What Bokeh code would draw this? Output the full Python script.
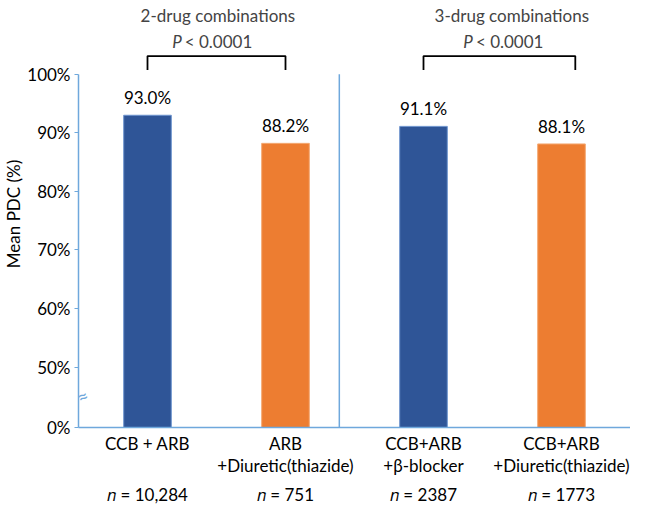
from bokeh.plotting import figure
from bokeh.models import (Range1d, FixedTicker, CustomJSTickFormatter, ColumnDataSource,
                          LabelSet, Label, LinearAxis)
from bokeh.core.properties import value
from bokeh.embed import file_html
from bokeh.resources import INLINE

# ---- data ----
categories_line1 = ["CCB + ARB", "ARB", "CCB+ARB", "CCB+ARB"]
categories_line2 = ["", "+Diuretic(thiazide)", "+β-blocker", "+Diuretic(thiazide)"]
n_labels = ["10,284", "751", "2387", "1773"]
mean_pdc = [93.0, 88.2, 91.1, 88.1]
value_labels = ["93.0%", "88.2%", "91.1%", "88.1%"]
groups = ["2-drug combinations", "3-drug combinations"]
y_ticks = [50, 60, 70, 80, 90, 100]
colors = ["#2F5597", "#ED7D31", "#2F5597", "#ED7D31"]
outline = ["#6F95CF", "#F4A872", "#6F95CF", "#F4A872"]

FONT = "Lato"
FS = "17px"
AXIS_COLOR = "#6FA8DC"
GAP = 62 / 6.0           # extent of the broken 0-50% segment, in plot units
ZERO = 50 - GAP          # plotted position of 0%
Y_TOP = 112.6
X_END = 4.0

xs = [i + 0.5 for i in range(len(mean_pdc))]
cat_labels = [a if not b else a + "\n" + b for a, b in zip(categories_line1, categories_line2)]
n_texts = ["\U0001D45B = " + s for s in n_labels]

p = figure(width=630, height=507, output_backend="svg", toolbar_location=None,
           x_range=Range1d(0, X_END), y_range=Range1d(ZERO, Y_TOP),
           x_axis_location=None, y_axis_location=None,
           min_border_left=0, min_border_right=0, min_border_top=0, min_border_bottom=0)
p.outline_line_color = None
p.grid.visible = False
p.background_fill_color = "white"

# y axis
yaxis = LinearAxis(ticker=FixedTicker(ticks=[ZERO] + y_ticks),
                   formatter=CustomJSTickFormatter(code="return tick < 45 ? '0%' : tick.toFixed(0) + '%';"))
yaxis.bounds = (ZERO, 100)
yaxis.axis_line_color = AXIS_COLOR
yaxis.axis_line_width = 1.5
yaxis.major_tick_line_color = AXIS_COLOR
yaxis.major_tick_out = 4
yaxis.major_tick_in = 0
yaxis.minor_tick_line_color = None
yaxis.minor_tick_out = 0
yaxis.major_label_text_font = FONT
yaxis.major_label_text_font_size = FS
yaxis.major_label_text_color = "black"
yaxis.major_label_standoff = 4
yaxis.axis_label = "Mean PDC (%)"
yaxis.axis_label_text_font = FONT
yaxis.axis_label_text_font_size = FS
yaxis.axis_label_text_font_style = "normal"
yaxis.axis_label_text_color = "black"
yaxis.axis_label_standoff = 0
p.add_layout(yaxis, "left")

# x axis with category labels
xaxis = LinearAxis(ticker=FixedTicker(ticks=xs),
                   formatter=CustomJSTickFormatter(args=dict(labels=cat_labels),
                                                   code="return labels[Math.round(tick - 0.5)];"))
xaxis.axis_line_color = AXIS_COLOR
xaxis.axis_line_width = 1.5
xaxis.major_tick_line_color = None
xaxis.major_tick_out = 0
xaxis.major_tick_in = 0
xaxis.minor_tick_line_color = None
xaxis.minor_tick_out = 0
xaxis.major_label_text_font = FONT
xaxis.major_label_text_font_size = FS
xaxis.major_label_text_color = "black"
xaxis.major_label_text_line_height = 1.05
xaxis.major_label_standoff = 5
p.add_layout(xaxis, "below")

# second x axis: group sizes
naxis = LinearAxis(ticker=FixedTicker(ticks=xs),
                   formatter=CustomJSTickFormatter(args=dict(labels=n_texts),
                                                   code="return labels[Math.round(tick - 0.5)];"))
naxis.axis_line_color = None
naxis.major_tick_line_color = None
naxis.major_tick_out = 0
naxis.major_tick_in = 0
naxis.minor_tick_line_color = None
naxis.minor_tick_out = 0
naxis.major_label_text_font = FONT
naxis.major_label_text_font_size = FS
naxis.major_label_text_color = "black"
naxis.major_label_standoff = 5
p.add_layout(naxis, "below")

src = ColumnDataSource(dict(x=xs, top=mean_pdc, lab=value_labels, c=colors, oc=outline))

p.vbar(x="x", top="top", bottom=ZERO, width=0.345, fill_color="c", line_color="oc",
       line_width=1, source=src)

# value labels
p.add_layout(LabelSet(x="x", y="top", text="lab", source=src, text_align="center",
                      text_baseline="bottom", y_offset=7, text_font=value(FONT),
                      text_font_size=value(FS), text_color="black"))

# divider between groups
p.segment(x0=[1.89], y0=[ZERO], x1=[1.89], y1=[100], line_color=AXIS_COLOR, line_width=1.5)

# significance brackets
br_top = 103.1
br_bot = 100.75
for (a, b) in [(0.5, 1.5), (2.5, 3.6)]:
    p.line(x=[a, a, b, b], y=[br_bot, br_top, br_top, br_bot], line_color="black", line_width=1.8)

# P texts and group titles
for xc in [0.98, 3.09]:
    p.add_layout(Label(x=xc, y=105.6, text="P", text_font=FONT, text_font_size=FS,
                       text_font_style="italic", text_align="right", text_baseline="middle",
                       x_offset=-32))
    p.add_layout(Label(x=xc, y=105.6, text="< 0.0001", text_font=FONT,
                       text_font_size=FS, text_align="left", text_baseline="middle",
                       x_offset=-29))
for xc, g in zip([1.01, 3.14], groups):
    p.add_layout(Label(x=xc, y=110.1, text=g, text_font=FONT, text_font_size=FS,
                       text_align="center", text_baseline="middle"))

# axis break symbol
p.add_layout(Label(x=0, y=ZERO + 5.0, text="≈", text_font=FONT, text_font_size="19px",
                   text_color=AXIS_COLOR, text_align="left", text_baseline="middle",
                   angle=0.45, x_offset=-1))

open("out.html", "w").write(file_html(p, INLINE))
